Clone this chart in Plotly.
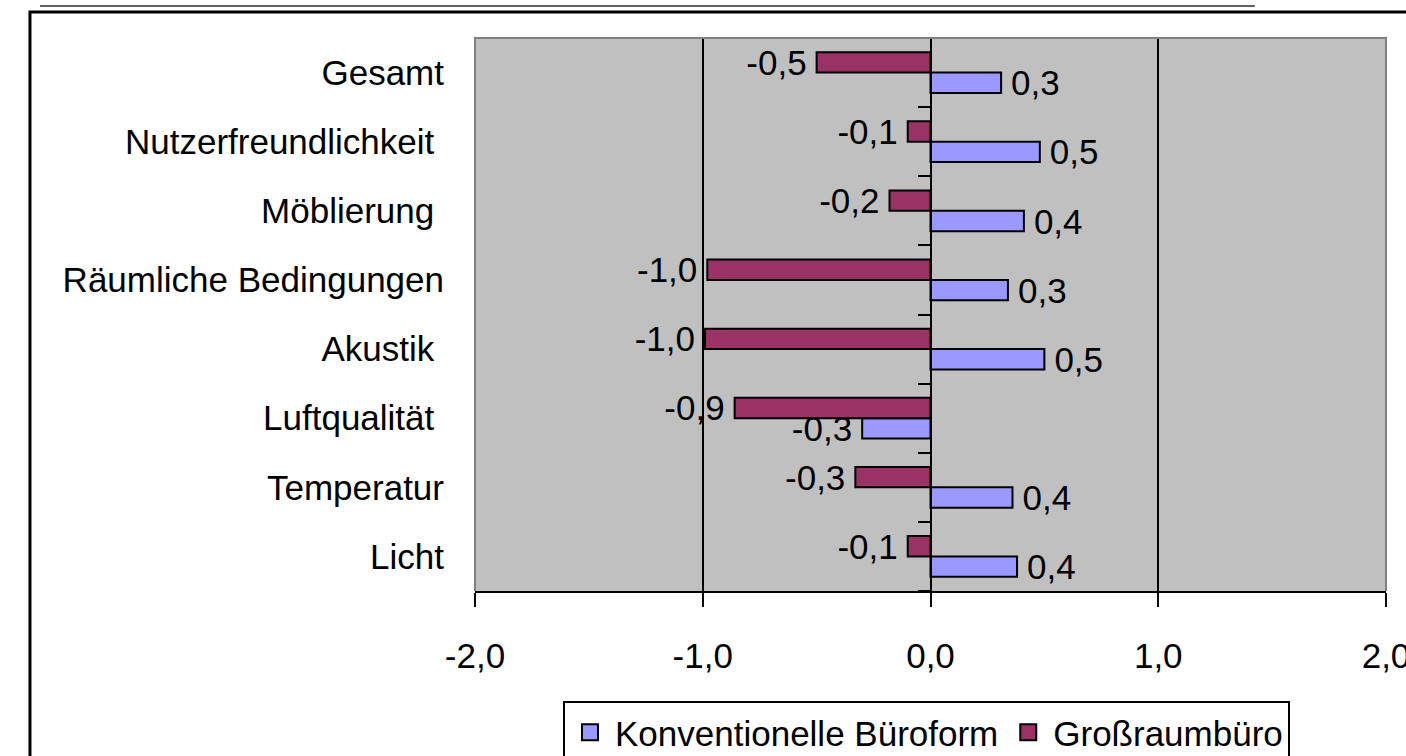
import plotly.graph_objects as go

categories = ["Licht", "Temperatur", "Luftqualität\u00a0", "Akustik\u00a0",
              "Räumliche Bedingungen", "Möblierung\u00a0", "Nutzerfreundlichkeit\u00a0", "Gesamt"]
konventionell = [0.38, 0.36, -0.30, 0.50, 0.34, 0.41, 0.48, 0.31]
grossraum = [-0.10, -0.33, -0.86, -0.99, -0.98, -0.18, -0.10, -0.50]
x_ticks = [-2, -1, 0, 1, 2]
x_tick_labels = ["-2,0", "-1,0", "0,0", "1,0", "2,0"]
series_names = ["Konventionelle Büroform", "Großraumbüro"]
series_colors = ["#9999FF", "#993366"]

FONT = "Liberation Sans, Arial, sans-serif"
FS = 35
idx = list(range(len(categories)))
boundaries = [i - 0.5 for i in range(len(categories) + 1)]


def label(v):
    s = f"{v:.1f}".replace(".", ",")
    return s + "\u2009" if v < 0 else "\u2009" + s


fig = go.Figure()
for name, vals, color in zip(series_names, [konventionell, grossraum], series_colors):
    fig.add_trace(go.Bar(
        y=idx, x=vals, orientation="h", name=name, showlegend=False,
        marker=dict(color=color, line=dict(color="black", width=2)),
        text=[label(v) for v in vals], texttemplate="%{text}",
        textposition="outside", constraintext="none",
        cliponaxis=False, textfont=dict(family=FONT, size=FS, color="black"),
    ))

# legend entries with square swatches
for name, color in zip(series_names, series_colors):
    fig.add_trace(go.Scatter(
        x=[None], y=[None], mode="markers", name=name,
        marker=dict(symbol="square", size=18, color=color, line=dict(color="black", width=2)),
    ))

# overlay axis acting as the category axis crossing at x=0
fig.add_trace(go.Scatter(y=idx, x=[0] * len(idx), yaxis="y2", mode="markers",
                         marker=dict(opacity=0), showlegend=False, hoverinfo="skip"))

fig.update_layout(
    width=1406, height=756,
    margin=dict(l=475, r=20, t=38, b=165, autoexpand=False),
    paper_bgcolor="white", plot_bgcolor="#C0C0C0",
    barmode="group", bargap=0.41, bargroupgap=0,
    font=dict(family=FONT, size=FS, color="black"),
    xaxis=dict(range=[-2, 2], tickvals=x_ticks, ticktext=x_tick_labels, automargin=False,
               showgrid=True, gridcolor="black", gridwidth=2, zeroline=False,
               showline=True, linecolor="black", linewidth=2,
               ticks="outside", ticklen=14, tickwidth=2, tickcolor="black",
               ticklabelstandoff=19, ticklabeloverflow="allow",
               tickfont=dict(size=FS), fixedrange=True),
    yaxis=dict(range=[-0.5, len(categories) - 0.5], tickvals=idx, ticktext=categories,
               automargin=False,
               showgrid=False, zeroline=False, showline=False, ticks="",
               ticklabelstandoff=30, tickfont=dict(size=FS), fixedrange=True),
    yaxis2=dict(range=[-0.5, len(categories) - 0.5], overlaying="y", anchor="free",
                position=0.5, side="left", tickvals=boundaries, showticklabels=False,
                automargin=False,
                showgrid=False, zeroline=False, showline=True, linecolor="black",
                linewidth=2, ticks="outside", ticklen=12, tickwidth=2, tickcolor="black",
                fixedrange=True),
    legend=dict(orientation="h", x=0.4956, xanchor="center", y=-0.199, yanchor="top",
                bordercolor="black", borderwidth=2, bgcolor="white", itemwidth=40,
                font=dict(size=FS, family=FONT), traceorder="normal"),
    shapes=[
        dict(type="path", xref="paper", yref="paper", path="M 0,0 L 0,1 L 1,1 L 1,0",
             line=dict(color="#808080", width=2), layer="above"),
        dict(type="rect", xref="paper", yref="paper", x0=-0.4885, x1=1.05, y0=-0.35, y1=1.047,
             line=dict(color="black", width=3), fillcolor="rgba(0,0,0,0)", layer="below"),
        dict(type="line", xref="paper", yref="paper", x0=-0.4775, x1=0.856, y0=1.058, y1=1.058,
             line=dict(color="#606060", width=2)),
    ],
)

fig.write_html("out.html", config={"displayModeBar": False},
               post_script="document.body.style.margin='0px';")
